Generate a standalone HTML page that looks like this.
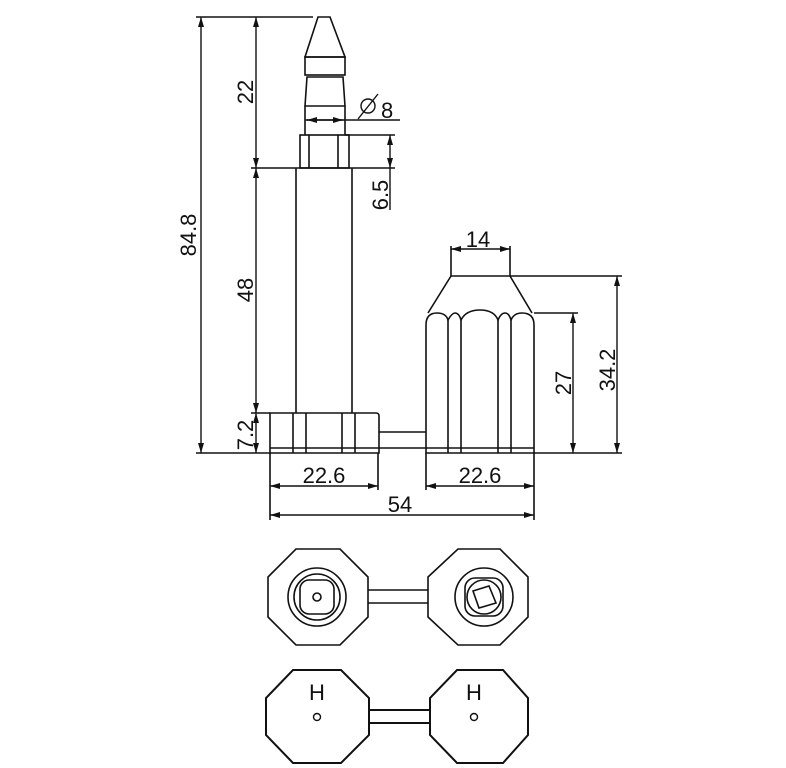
<!DOCTYPE html>
<html><head><meta charset="utf-8"><style>
html,body{margin:0;padding:0;background:#fff;}
svg{display:block;}
text{font-family:"Liberation Sans",sans-serif;font-size:22px;fill:#111;}
</style></head><body>
<svg width="786" height="768" viewBox="0 0 786 768" xmlns="http://www.w3.org/2000/svg">
<defs>
<marker id="a" viewBox="0 0 10 6" refX="10" refY="3" markerWidth="10" markerHeight="6" orient="auto-start-reverse" markerUnits="userSpaceOnUse"><path d="M0,0L10,3L0,6z" fill="#111"/></marker>
</defs>
<g stroke="#111" stroke-width="1.6" fill="none">
<path d="M318,17H330L345,57H305Z"/>
<rect x="305" y="57" width="40" height="18"/>
<path d="M307,77H343L345,106H305Z"/>
<path d="M305,106V135M345,106V135"/>
<rect x="300" y="135" width="49" height="33"/>
<path d="M309,135V168M338,135V168"/>
<path d="M296,168V413M352,168V413"/>
<path d="M270,453V413H376Q379,413 379,416V453Z"/>
<path d="M270,448H379M293,413V453M306,413V453M342,413V453M355,413V453"/>
<path d="M379,432H426M379,448H426"/>
<path d="M451,276H510L532,313M451,276L428,313"/>
<path d="M426,453V325Q426,313 437,313Q446,313 448,320Q452,313 455,313Q459,313 461,320Q466,310 480,310Q494,310 498,320Q501,313 505,313Q509,313 511,320Q514,313 522,313Q534,313 534,325V453Z"/>
<path d="M426,448H534M448,320V453M461,320V453M498,320V453M511,320V453"/>
<path d="M196,17H313M251,168H395M196,453H270M251,413H270M345,135H395"/>
<path d="M305,120H400" />
<path d="M510,276H622M534,313H578M534,453H622"/>
<path d="M451,246V276M510,246V276"/>
<path d="M270,453V520M378,453V490M426,453V490M534,453V520"/>
</g>
<g stroke="#111" stroke-width="1.4" fill="none">
<line x1="201" y1="17" x2="201" y2="453" marker-start="url(#a)" marker-end="url(#a)"/>
<line x1="256" y1="17" x2="256" y2="168" marker-start="url(#a)" marker-end="url(#a)"/>
<line x1="256" y1="168" x2="256" y2="413" marker-start="url(#a)" marker-end="url(#a)"/>
<line x1="256" y1="413" x2="256" y2="453" marker-start="url(#a)" marker-end="url(#a)"/>
<line x1="307" y1="120" x2="343" y2="120" marker-start="url(#a)" marker-end="url(#a)"/>
<line x1="390" y1="135" x2="390" y2="168" marker-start="url(#a)" marker-end="url(#a)"/>
<line x1="390" y1="168" x2="390" y2="210"/>
<line x1="451" y1="249" x2="510" y2="249" marker-start="url(#a)" marker-end="url(#a)"/>
<line x1="617" y1="276" x2="617" y2="453" marker-start="url(#a)" marker-end="url(#a)"/>
<line x1="573" y1="313" x2="573" y2="453" marker-start="url(#a)" marker-end="url(#a)"/>
<line x1="270" y1="486" x2="378" y2="486" marker-start="url(#a)" marker-end="url(#a)"/>
<line x1="426" y1="486" x2="534" y2="486" marker-start="url(#a)" marker-end="url(#a)"/>
<line x1="270" y1="515" x2="534" y2="515" marker-start="url(#a)" marker-end="url(#a)"/>
<circle cx="368" cy="106" r="7"/>
<line x1="358" y1="119" x2="378" y2="94"/>
</g>
<text transform="translate(253,92) rotate(-90)" text-anchor="middle">22</text>
<text transform="translate(196,235) rotate(-90)" text-anchor="middle">84.8</text>
<text transform="translate(253,290) rotate(-90)" text-anchor="middle">48</text>
<text transform="translate(253,435) rotate(-90)" text-anchor="middle">7.2</text>
<text transform="translate(388,195) rotate(-90)" text-anchor="middle">6.5</text>
<text x="381" y="118">8</text>
<text x="478" y="247" text-anchor="middle">14</text>
<text transform="translate(571,383) rotate(-90)" text-anchor="middle">27</text>
<text transform="translate(615,370) rotate(-90)" text-anchor="middle">34.2</text>
<text x="324" y="483" text-anchor="middle">22.6</text>
<text x="480" y="483" text-anchor="middle">22.6</text>
<text x="400" y="512" text-anchor="middle">54</text>
<g stroke="#111" stroke-width="1.6" fill="none">
<path d="M296,549H340L368,577V617L340,645H296L268,617V577Z"/>
<path d="M458,549H500L528,577V617L500,645H458L428,617V577Z"/>
<path d="M368,590H428M368,603H428"/>
<circle cx="317" cy="597" r="29"/>
<circle cx="317" cy="597" r="23"/>
<rect x="300" y="580" width="34" height="34" rx="9"/>
<circle cx="317" cy="597" r="4"/>
<circle cx="484" cy="597" r="29"/>
<rect x="465" y="578" width="38" height="38" rx="10"/>
<circle cx="484" cy="597" r="17"/>
<path d="M473,591L489,586L496,603L479,608Z"/>
</g>
<g stroke="#111" stroke-width="2" fill="none">
<path d="M293,670H341L369,698V735L341,763H293L266,735V698Z"/>
<path d="M457,670H503L528,698V735L503,763H457L430,735V698Z"/>
<path d="M369,710H430M369,723H430"/>
<circle cx="317" cy="717" r="3.5" stroke-width="1.4"/>
<circle cx="474" cy="717" r="3.5" stroke-width="1.4"/>
</g>
<text x="317" y="700" text-anchor="middle" font-size="18">H</text>
<text x="474" y="700" text-anchor="middle" font-size="18">H</text>
</svg>
</body></html>
